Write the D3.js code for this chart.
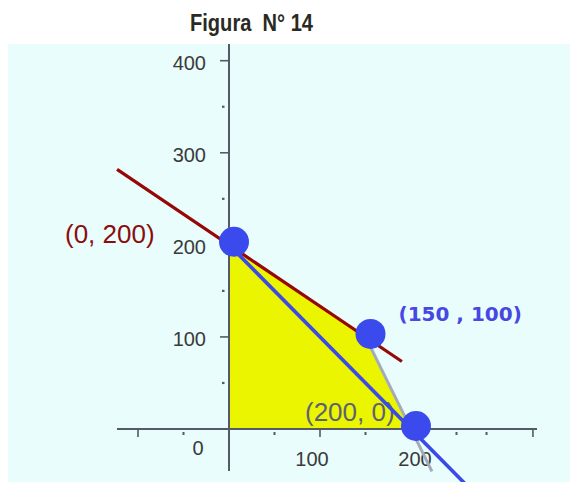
<!DOCTYPE html>
<html>
<head>
<meta charset="utf-8">
<script src="https://cdn.jsdelivr.net/npm/d3@7"></script>
<style>
  html, body { margin: 0; padding: 0; background: #ffffff; }
  svg { display: block; }
</style>
</head>
<body>
<svg id="chart" width="570" height="482"></svg>
<script>
// Feasible region of the linear program and its constraint lines
const titleText = "Figura  N° 14";

// vertices of the feasible region (x, y)
const region = [[0, 0], [0, 200], [150, 100], [200, 0]];

// constraint lines, each as two end points in data units
const redLine  = [[-123, 282], [190, 73.3]];   // 2x + 3y = 600
const grayLine = [[150, 100], [223, -46]];      // 2x + y = 400
const blueLine = [[0, 200], [262, -62]];        // x + y = 200

// highlighted corner points
const corners = [[0, 200], [150, 100], [200, 0]];
const cornerLabels = ["(0, 200)", "(150 , 100)", "(200, 0)"];

// axis ticks
const yMajor = [100, 200, 300, 400];
const yMinor = [50, 150, 250, 350];
const yTickLabels = ["100", "200", "300", "400"];
const xMajor = [-100, 100, 200, 334];
const xMinor = [-50, 50, 150, 250, 283];
const xTickLabels = [{v: 0, t: "0"}, {v: 100, t: "100"}, {v: 200, t: "200"}];

const svg = d3.select("#chart");

const x = d3.scaleLinear().domain([0, 100]).range([229, 320]);
const y = d3.scaleLinear().domain([0, 400]).range([429, 60.7]);

// plot background
svg.append("rect")
  .attr("x", 8).attr("y", 44).attr("width", 562).attr("height", 438)
  .attr("fill", "#e9fdfd");

// title
const title = svg.append("text")
  .attr("x", 251.5).attr("y", 31)
  .attr("text-anchor", "middle")
  .style("white-space", "pre")
  .attr("font-family", "'Liberation Sans Narrow', 'Liberation Sans', Arial, sans-serif")
  .attr("font-weight", "bold")
  .attr("font-size", 24)
  .attr("fill", "#2a2a22")
  .text(titleText);
title.attr("textLength", 123).attr("lengthAdjust", "spacingAndGlyphs");

// feasible region
svg.append("path")
  .attr("d", d3.line().x(d => x(d[0])).y(d => y(d[1]))(region) + "Z")
  .attr("fill", "#ecf500");

// axes
const axisColor = "#545a66";
const axes = svg.append("g").attr("stroke", axisColor).attr("fill", "none");
axes.append("line").attr("x1", x(0)).attr("x2", x(0)).attr("y1", 44).attr("y2", 471).attr("stroke-width", 2);
axes.append("line").attr("x1", 117).attr("x2", 537).attr("y1", y(0)).attr("y2", y(0)).attr("stroke-width", 2);

axes.selectAll(".ymaj").data(yMajor).join("line")
  .attr("x1", x(0) - 9).attr("x2", x(0))
  .attr("y1", d => y(d)).attr("y2", d => y(d))
  .attr("stroke-width", 1.6);
axes.selectAll(".ymin").data(yMinor).join("line")
  .attr("x1", x(0) - 7).attr("x2", x(0) - 4.5)
  .attr("y1", d => y(d)).attr("y2", d => y(d))
  .attr("stroke-width", 2.2);
axes.selectAll(".xmaj").data(xMajor).join("line")
  .attr("x1", d => x(d)).attr("x2", d => x(d))
  .attr("y1", y(0)).attr("y2", y(0) + 8)
  .attr("stroke-width", 1.6);
axes.selectAll(".xmin").data(xMinor).join("line")
  .attr("x1", d => x(d)).attr("x2", d => x(d))
  .attr("y1", y(0) + 3).attr("y2", y(0) + 6)
  .attr("stroke-width", 2);

// tick labels
const tickFont = "'Liberation Sans', Arial, sans-serif";
svg.append("g").selectAll("text").data(yMajor).join("text")
  .attr("x", 206).attr("y", d => y(d) + 9)
  .attr("text-anchor", "end")
  .attr("font-family", tickFont).attr("font-size", 20)
  .attr("fill", "#3a3a3a")
  .text((d, i) => yTickLabels[i]);
svg.append("g").selectAll("text").data(xTickLabels).join("text")
  .attr("x", d => d.v === 0 ? 198 : x(d.v) - (d.v === 100 ? 8 : -4))
  .attr("y", d => d.v === 0 ? 455 : 466)
  .attr("text-anchor", "middle")
  .attr("font-family", tickFont).attr("font-size", 20)
  .attr("fill", "#3a3a3a")
  .text(d => d.t);

// corner labels
const labelStyle = [
  {dx: -164, dy: -2, size: 26, weight: "normal", color: "#8c0c0c", family: "'Liberation Sans', Arial, sans-serif"},
  {dx: 33,   dy: -16, size: 20, weight: "bold",  color: "#4747e2", family: "'DejaVu Sans', Verdana, sans-serif"},
  {dx: -106, dy: -8, size: 26, weight: "normal", color: "#5c6272", family: "'Liberation Sans', Arial, sans-serif"}
];
svg.append("g").selectAll("text").data(corners).join("text")
  .attr("x", (d, i) => x(d[0]) + labelStyle[i].dx)
  .attr("y", (d, i) => y(d[1]) + labelStyle[i].dy)
  .attr("font-family", (d, i) => labelStyle[i].family)
  .attr("font-size", (d, i) => labelStyle[i].size)
  .attr("font-weight", (d, i) => labelStyle[i].weight)
  .attr("fill", (d, i) => labelStyle[i].color)
  .text((d, i) => cornerLabels[i]);

// constraint lines
const line = d3.line().x(d => x(d[0])).y(d => y(d[1]));
svg.append("path").attr("d", line(redLine))
  .attr("stroke", "#960808").attr("stroke-width", 3.2).attr("fill", "none");
svg.append("path").attr("d", line(grayLine))
  .attr("stroke", "#a3abbb").attr("stroke-width", 3).attr("fill", "none");
svg.append("path").attr("d", line(blueLine))
  .attr("stroke", "#3a4ae8").attr("stroke-width", 3.6).attr("fill", "none");

// corner points
svg.append("g").selectAll("circle").data(corners).join("circle")
  .attr("cx", d => x(d[0]) + 5)
  .attr("cy", d => y(d[1]) - 3)
  .attr("r", 15)
  .attr("fill", "#3a4aec");
</script>
</body>
</html>
